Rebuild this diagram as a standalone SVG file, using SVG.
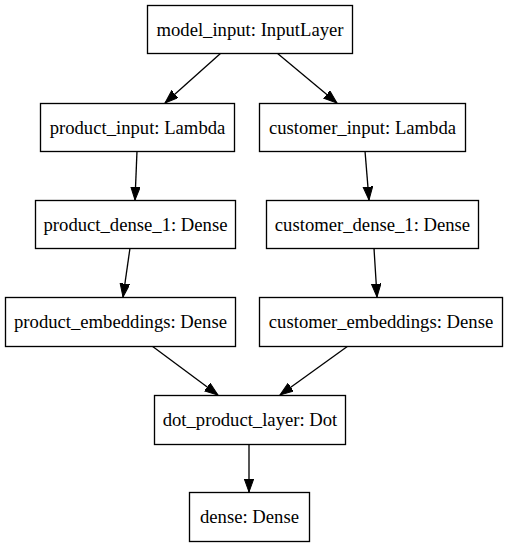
<svg xmlns="http://www.w3.org/2000/svg" width="506" height="547" viewBox="0 0 506 547">
<style>
.box{fill:#fff;stroke:#000;stroke-width:1.33}
.lbl{font-family:"Liberation Serif","Times New Roman",serif;font-size:18.67px;fill:#000;text-anchor:middle}
.edge{stroke:#000;stroke-width:1.33;fill:none;marker-end:url(#ah)}
</style>
<defs>
<marker id="ah" markerUnits="userSpaceOnUse" markerWidth="15" markerHeight="11" refX="13.3" refY="4.8" orient="auto" viewBox="0 0 15 11">
<path d="M0,0 L13.3,4.8 L0,9.6 Z" fill="#000" stroke="#000" stroke-width="1"/>
</marker>
</defs>
<rect width="506" height="547" fill="#fff"/>
<g id="connectors">
<line class="edge" x1="221" y1="53" x2="165" y2="103"/>
<line class="edge" x1="277" y1="53" x2="337" y2="103"/>
<line class="edge" x1="137" y1="151" x2="135" y2="200"/>
<line class="edge" x1="365" y1="151" x2="369" y2="200"/>
<line class="edge" x1="130" y1="248" x2="123" y2="297"/>
<line class="edge" x1="374" y1="248" x2="377" y2="297"/>
<line class="edge" x1="152" y1="346" x2="218" y2="395"/>
<line class="edge" x1="348" y1="346" x2="280" y2="395"/>
<line class="edge" x1="249" y1="444" x2="249" y2="492"/>
</g>
<g id="model_input"><rect class="box" x="147.5" y="5.5" width="205" height="48"/><text class="lbl" x="250" y="35.5">model_input: InputLayer</text></g>
<g id="product_input"><rect class="box" x="40.5" y="103.5" width="194" height="48"/><text class="lbl" x="137.5" y="133.5">product_input: Lambda</text></g>
<g id="customer_input"><rect class="box" x="259.5" y="103.5" width="206" height="48"/><text class="lbl" x="362.5" y="133.5">customer_input: Lambda</text></g>
<g id="product_dense_1"><rect class="box" x="35.5" y="200.5" width="200" height="48"/><text class="lbl" x="135.5" y="230.5">product_dense_1: Dense</text></g>
<g id="customer_dense_1"><rect class="box" x="266.5" y="200.5" width="212" height="48"/><text class="lbl" x="372.5" y="230.5">customer_dense_1: Dense</text></g>
<g id="product_embeddings"><rect class="box" x="5.5" y="297.5" width="230" height="49"/><text class="lbl" x="120.5" y="328">product_embeddings: Dense</text></g>
<g id="customer_embeddings"><rect class="box" x="259.5" y="297.5" width="243" height="49"/><text class="lbl" x="381" y="328">customer_embeddings: Dense</text></g>
<g id="dot_product_layer"><rect class="box" x="154.5" y="395.5" width="191" height="49"/><text class="lbl" x="250" y="426">dot_product_layer: Dot</text></g>
<g id="dense"><rect class="box" x="189.5" y="492.5" width="120" height="49"/><text class="lbl" x="249.5" y="523">dense: Dense</text></g>
</svg>
